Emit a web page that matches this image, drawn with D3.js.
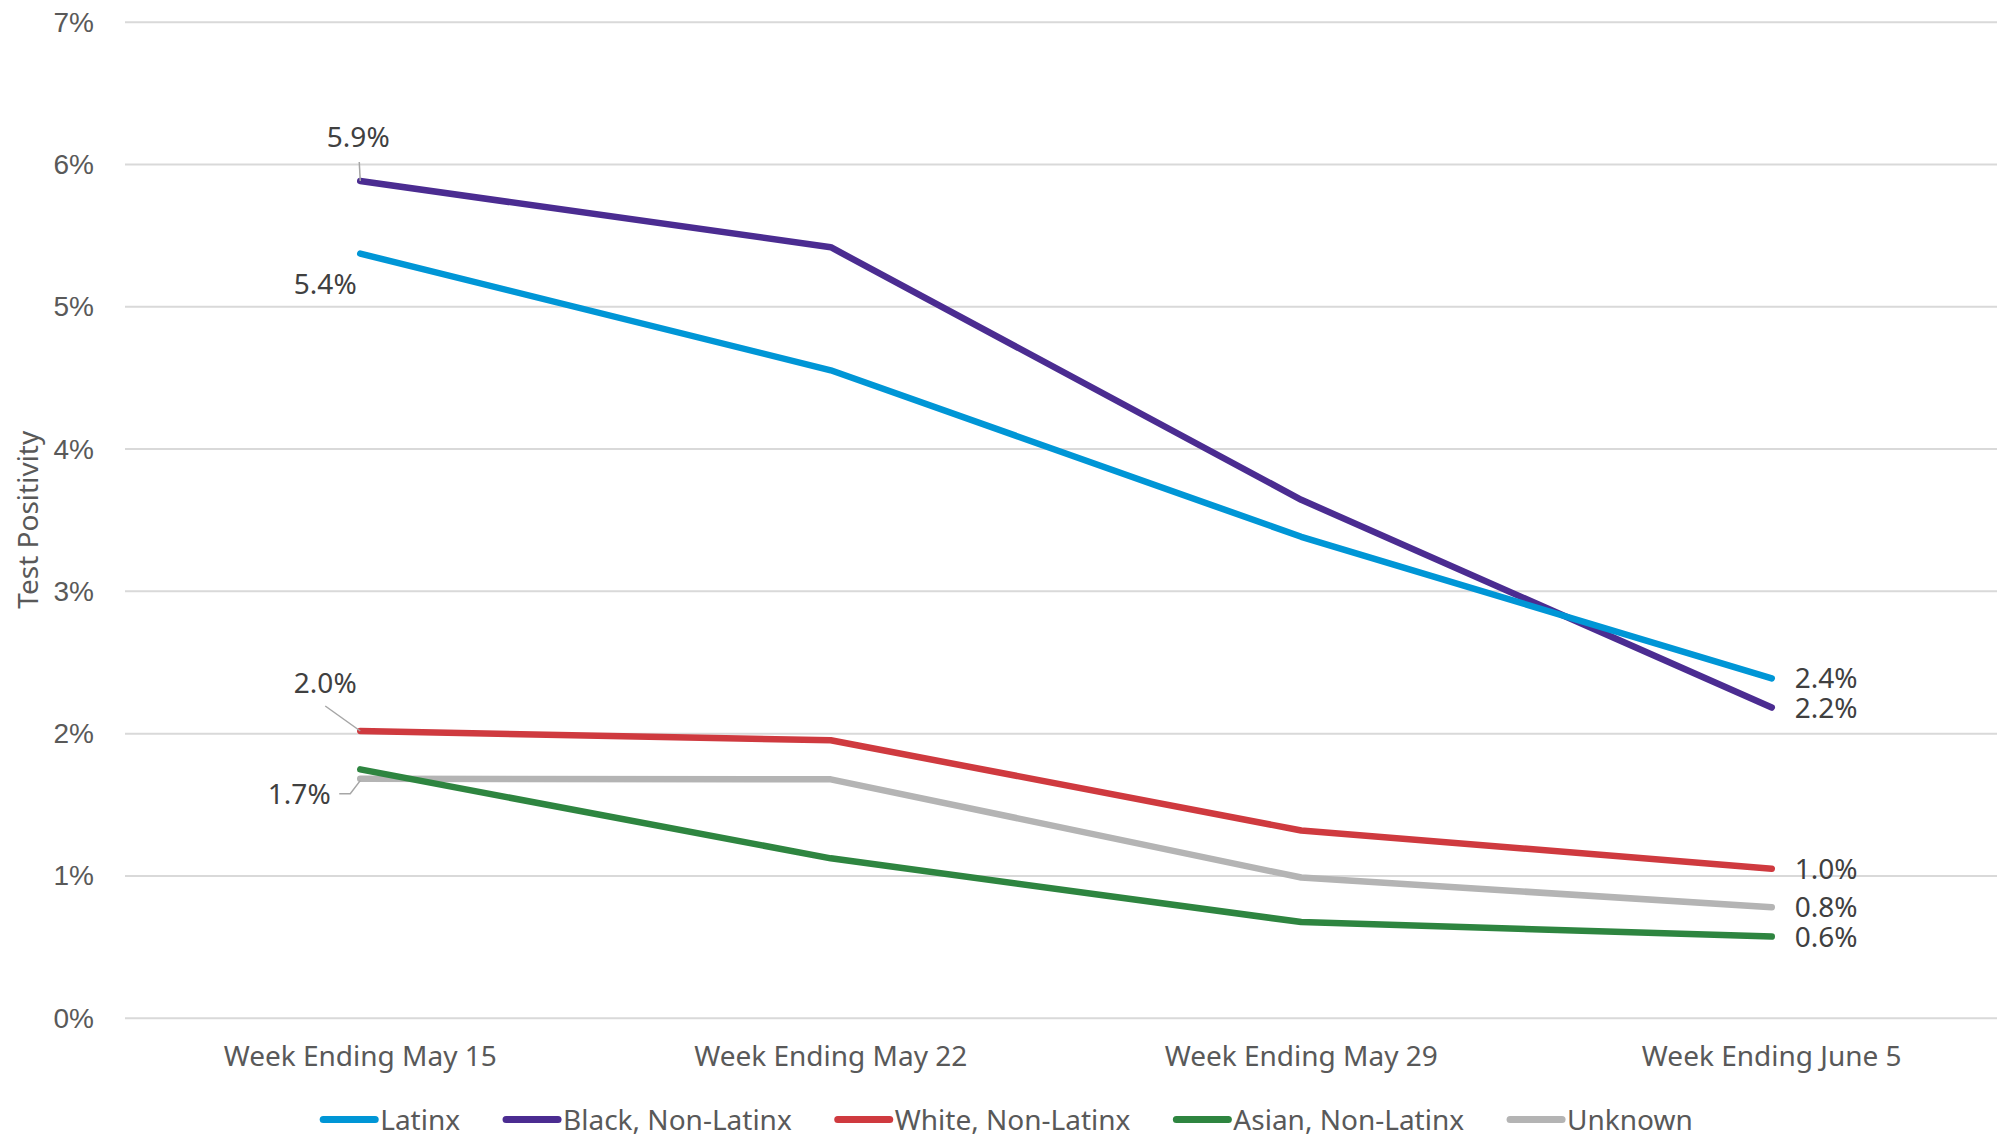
<!DOCTYPE html>
<html>
<head>
<meta charset="utf-8">
<script src="https://cdn.jsdelivr.net/npm/d3@7"></script>
<style>
  body { margin: 0; background: #fff; }
  svg { display: block; font-family: "Noto Sans", "Open Sans", sans-serif; }
</style>
</head>
<body>
<div id="chart"></div>
<script>
// categories and series (test positivity, %)
var weeks = ["Week Ending May 15", "Week Ending May 22", "Week Ending May 29", "Week Ending June 5"];
var latinx = [5.37, 4.55, 3.38, 2.385];
var black = [5.88, 5.415, 3.64, 2.18];
var white = [2.015, 1.95, 1.316, 1.047];
var asian = [1.745, 1.12, 0.672, 0.57];
var unknown = [1.68, 1.675, 0.985, 0.776];
var seriesNames = ["Latinx", "Black, Non-Latinx", "White, Non-Latinx", "Asian, Non-Latinx", "Unknown"];
var yTicks = [0, 1, 2, 3, 4, 5, 6, 7];

var colors = ["#0096D6", "#4B2C91", "#CF3A3F", "#2E8540", "#B4B4B4"];

var W = 1997, H = 1139;
var svg = d3.select("#chart").append("svg").attr("width", W).attr("height", H);

var x = d3.scalePoint().domain(weeks).range([125, 2007]).padding(0.5);
var y = d3.scaleLinear().domain([0, 7]).range([1017.7, 21.7]);

// gridlines + y tick labels
var yAxis = svg.append("g")
  .attr("transform", "translate(125,0)")
  .call(d3.axisLeft(y).tickValues(yTicks).tickSize(-(W - 125)).tickFormat(function (d) { return d + "%"; }));
yAxis.select(".domain").remove();
yAxis.selectAll(".tick line").attr("stroke", "#D9D9D9").attr("stroke-width", 2);
yAxis.selectAll(".tick text")
  .attr("x", -31).attr("dy", "0.34em")
  .attr("fill", "#595959").style("font-size", "28px").style("font-family", "inherit");

// y title
svg.append("text")
  .attr("transform", "translate(38," + ((y(0) + y(7)) / 2) + ") rotate(-90)")
  .attr("text-anchor", "middle")
  .attr("fill", "#595959").style("font-size", "28px")
  .text("Test Positivity");

// category labels
svg.append("g").selectAll("text")
  .data(weeks).enter().append("text")
  .attr("x", function (d) { return x(d); })
  .attr("y", 1066)
  .attr("text-anchor", "middle")
  .attr("fill", "#595959").style("font-size", "28px")
  .text(function (d) { return d; });

var series = [latinx, black, white, asian, unknown].map(function (vals, i) {
  return { name: seriesNames[i], color: colors[i], values: vals };
});

var line = d3.line()
  .x(function (d, i) { return x(weeks[i]); })
  .y(function (d) { return y(d); });

// draw back to front so Latinx/Black sit on top like in the source
svg.append("g").selectAll("path")
  .data(series.slice().reverse()).enter().append("path")
  .attr("d", function (d) { return line(d.values); })
  .attr("fill", "none")
  .attr("stroke", function (d) { return d.color; })
  .attr("stroke-width", 6.5)
  .attr("stroke-linecap", "round")
  .attr("stroke-linejoin", "round");

// data labels: [series index, point index, dx, dy, leader]
var fmt = function (v) { return d3.format(".1f")(v) + "%"; };
var labels = [
  { s: 1, p: 0, dx: -2, dy: -34, anchor: "middle", leader: [[-1, -19], [0, 0]] },
  { s: 0, p: 0, dx: -35, dy: 40, anchor: "middle", leader: null },
  { s: 2, p: 0, dx: -35, dy: -38, anchor: "middle", leader: [[-35, -25], [0, 0]] },
  { s: 4, p: 0, dx: -61, dy: 25, anchor: "middle", leader: [[-21, 15], [-10, 15], [0, 2]] },
  { s: 0, p: 3, dx: 23, dy: 10, anchor: "start", leader: null },
  { s: 1, p: 3, dx: 23, dy: 10, anchor: "start", leader: null },
  { s: 2, p: 3, dx: 23, dy: 10, anchor: "start", leader: null },
  { s: 4, p: 3, dx: 23, dy: 10, anchor: "start", leader: null },
  { s: 3, p: 3, dx: 23, dy: 10, anchor: "start", leader: null }
];

var lab = svg.append("g");
labels.forEach(function (l) {
  var v = series[l.s].values[l.p];
  var px = x(weeks[l.p]), py = y(v);
  if (l.leader) {
    lab.append("path")
      .attr("d", d3.line()(l.leader.map(function (q) { return [px + q[0], py + q[1]]; })))
      .attr("fill", "none").attr("stroke", "#A6A6A6").attr("stroke-width", 1.5);
  }
  lab.append("text")
    .attr("x", px + l.dx).attr("y", py + l.dy)
    .attr("text-anchor", l.anchor)
    .attr("fill", "#404040").style("font-size", "28px")
    .text(fmt(v));
});

// legend
var leg = svg.append("g");
var items = leg.selectAll("g").data(series).enter().append("g");
items.append("line")
  .attr("x1", 0).attr("x2", 52).attr("y1", 0).attr("y2", 0)
  .attr("stroke", function (d) { return d.color; })
  .attr("stroke-width", 7).attr("stroke-linecap", "round");
items.append("text")
  .attr("x", 57).attr("y", 10)
  .attr("fill", "#595959").style("font-size", "28px")
  .text(function (d) { return d.name; });

var offs = 0, pos = [];
items.each(function () {
  var w = d3.select(this).select("text").node().getComputedTextLength();
  pos.push(offs);
  offs += 57 + w + 46;
});
var total = offs - 46;
var startX = 1008 - total / 2;
items.attr("transform", function (d, i) { return "translate(" + (startX + pos[i]) + ",1119.5)"; });
</script>
</body>
</html>
